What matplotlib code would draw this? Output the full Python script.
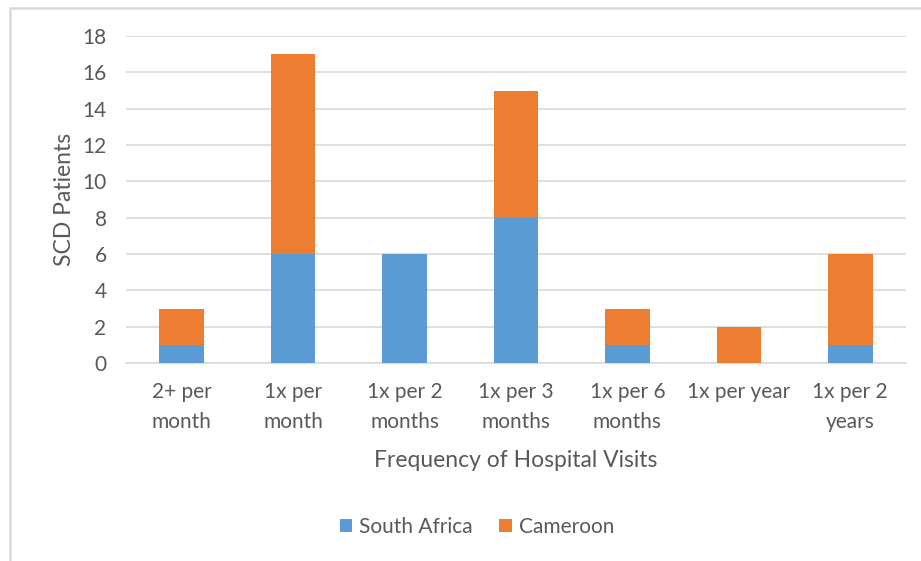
import matplotlib.pyplot as plt
import numpy as np
from matplotlib.patches import Rectangle

plt.rcParams['font.family'] = ['Lato', 'DejaVu Sans']

# Data
categories = ['2+ per\nmonth', '1x per\nmonth', '1x per 2\nmonths', '1x per 3\nmonths',
              '1x per 6\nmonths', '1x per year', '1x per 2\nyears']
south_africa = [1, 6, 6, 8, 1, 0, 1]
cameroon = [2, 11, 0, 7, 2, 2, 5]

BLUE = '#5B9BD5'
ORANGE = '#ED7D31'
TEXT = '#595959'
GRID = '#D9D9D9'

W, H = 921, 561
fig = plt.figure(figsize=(W / 100, H / 100), dpi=100)
ax = fig.add_axes([126 / W, 1 - 363 / H, (906 - 126) / W, (363 - 36) / H])

x = np.arange(len(categories))
ax.bar(x, south_africa, width=0.4, color=BLUE, label='South Africa', zorder=3)
ax.bar(x, cameroon, width=0.4, bottom=south_africa, color=ORANGE, label='Cameroon', zorder=3)

ax.set_xlim(-0.5, len(categories) - 0.5)
ax.set_ylim(0, 18)
ax.set_yticks(range(0, 19, 2))
ax.set_xticks(x)
ax.set_xticklabels(categories, fontsize=15, color=TEXT, linespacing=1.62)
ax.tick_params(axis='y', labelsize=15, labelcolor=TEXT, length=0, pad=14)
ax.tick_params(axis='x', length=0, pad=14)
ax.grid(axis='y', color=GRID, linewidth=1.2, zorder=0)
for s in ['top', 'right', 'left']:
    ax.spines[s].set_visible(False)
ax.spines['bottom'].set_color(GRID)
ax.spines['bottom'].set_linewidth(1.2)

ax.set_xlabel('Frequency of Hospital Visits', fontsize=16.5, color=TEXT, labelpad=13)
ax.set_ylabel('SCD Patients', fontsize=16.5, color=TEXT, labelpad=5)

leg = fig.legend(loc='center', bbox_to_anchor=(477 / W, 1 - 527 / H), ncol=2, frameon=False,
                 fontsize=15, handlelength=0.6, handleheight=0.6, handletextpad=0.35,
                 columnspacing=1.25)
for t in leg.get_texts():
    t.set_color(TEXT)

# light chart border
fig.patches.append(Rectangle((10 / W, -0.1), 1.1, 1 - 8 / H + 0.1, transform=fig.transFigure,
                             fill=False, edgecolor=GRID, linewidth=1.8))

fig.savefig('out.png', dpi=100)
